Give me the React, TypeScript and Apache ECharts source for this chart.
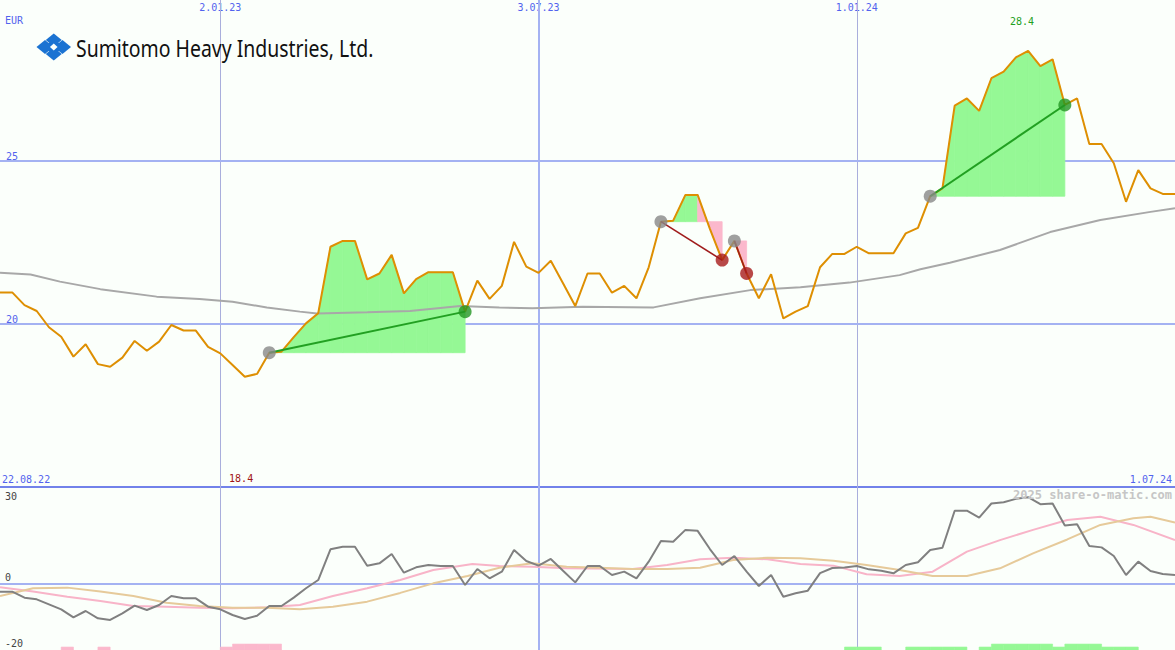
import React, { useEffect, useRef } from "react";
import * as echarts from "echarts";

// ---------- data ----------
const FIRST_WEEK = -1; // week index of first value (x axis: weeks since 29.08.22)
const priceValues = [
  20.97, 20.97, 20.97, 20.58, 20.4, 19.9, 19.61, 19.0, 19.38, 18.77, 18.69, 18.97, 19.48, 19.18, 19.46, 19.97,
  19.8, 19.8, 19.3, 19.1, 18.74, 18.38, 18.47, 19.12, 19.15, 19.6, 20.02, 20.33, 22.37, 22.55, 22.55, 21.37,
  21.55, 22.12, 20.94, 21.38, 21.59, 21.59, 21.59, 20.38, 21.33, 20.77, 21.17, 22.52, 21.76, 21.57, 21.94, 21.25,
  20.55, 21.55, 21.55, 20.96, 21.17, 20.79, 21.74, 23.14, 23.17, 23.96, 23.96, 22.92, 21.96, 22.55, 21.55, 20.79,
  21.53, 20.17, 20.38, 20.55, 21.74, 22.15, 22.15, 22.37, 22.17, 22.17, 22.17, 22.78, 22.95, 23.92, 24.16, 26.7,
  26.92, 26.54, 27.54, 27.74, 28.18, 28.38, 27.91, 28.12, 26.72, 26.92, 25.52, 25.52, 24.93, 23.75, 24.72, 24.16,
  23.99, 23.99,
];
const oscValues = [
  -2.3, -2.33, -2.33, -4.15, -4.65, -6.16, -7.68, -10.1, -8.18, -10.4, -10.9, -8.9, -6.57, -7.88, -6.36, -3.64,
  -4.34, -4.34, -6.87, -7.68, -9.39, -10.6, -9.6, -6.67, -6.67, -4.14, -1.3, 1.21, 10.5, 11.3, 11.3, 5.55,
  6.26, 9.09, 3.43, 5.05, 5.76, 5.45, 5.45, -0.3, 4.55, 1.72, 3.74, 10.3, 6.97, 5.56, 7.58, 4.04,
  0.5, 5.45, 5.45, 2.73, 3.74, 1.72, 6.77, 13.0, 12.8, 16.4, 16.1, 10.6, 5.76, 8.48, 3.74, -0.6,
  2.73, -3.84, -2.83, -2.02, 3.3, 4.85, 5.0, 5.45, 4.44, 4.04, 3.23, 5.76, 6.57, 10.3, 11.0, 22.2,
  22.2, 20.1, 24.4, 24.8, 25.8, 26.3, 24.2, 24.4, 17.7, 18.1, 11.5, 11.1, 8.48, 2.73, 6.77, 3.94,
  3.03, 2.73,
];
const maWeeks = [0, 2.5, 4.9, 8.2, 12.8, 16.3, 19, 21.8, 24.5, 25.9, 30, 33.5, 37.6, 40.8, 43.5, 47.6, 53.4, 57.2, 61.3, 65.4, 69.4, 73.5, 75.2, 77.6, 81.7, 85.8, 89.9, 94, 96];
const maValues = [21.57, 21.52, 21.3, 21.07, 20.84, 20.77, 20.68, 20.51, 20.38, 20.32, 20.36, 20.4, 20.55, 20.51, 20.48, 20.53, 20.51, 20.79, 21.04, 21.13, 21.27, 21.5, 21.68, 21.88, 22.27, 22.82, 23.19, 23.44, 23.55];
const pinkWeeks = [0, 2.7, 5.5, 8.2, 10.9, 13.6, 16.3, 19, 21.8, 24.5, 27.2, 30, 32.7, 35.4, 38.6, 40.8, 43.5, 46.3, 51.7, 54.5, 57.2, 59.9, 62.7, 65.4, 68.1, 70.8, 73.5, 76.2, 79, 81.7, 84.4, 87.2, 89.9, 92.6, 96];
const pinkValues = [-1.0, -2.3, -3.84, -5.15, -6.67, -6.87, -7.18, -7.37, -7.07, -6.36, -3.64, -1.3, 1.21, 4.24, 6.06, 5.45, 5.2, 4.75, 4.55, 5.76, 7.47, 7.98, 7.47, 6.06, 5.56, 2.93, 2.42, 3.74, 9.8, 13.3, 16.4, 19.4, 20.4, 17.9, 13.3];
const tanWeeks = [0, 2.7, 5.5, 8.2, 10.9, 13.6, 16.3, 19, 21.8, 24.5, 27.2, 30, 32.7, 35.4, 38.2, 40.8, 43.5, 46.3, 49, 51.7, 54.5, 57.2, 59.9, 62.7, 65.4, 68.1, 70.8, 73.5, 76.2, 79, 81.7, 84.4, 87.2, 89.9, 92.6, 94, 96];
const tanValues = [-3.64, -1.3, -1.1, -2.3, -3.64, -5.66, -6.67, -7.18, -7.18, -7.68, -6.87, -5.35, -2.7, 0.2, 2.42, 4.95, 6.26, 5.25, 4.95, 4.55, 4.55, 4.95, 7.27, 7.98, 7.78, 7.07, 5.76, 4.24, 2.42, 2.42, 4.75, 9.29, 13.5, 17.9, 19.9, 20.4, 18.6];
const tradeBuyWeeks = [22, 54, 60, 76];
const tradeSellWeeks = [38, 59, 61, 87];
const pinkBarWeeks = [5, 8, 18, 19, 20, 21, 22];
const pinkBarHeights = [0.9, 0.9, 0.9, 1.8, 1.8, 1.8, 1.8];
const greenBarWeeks = [69, 70, 71, 74, 75, 76, 77, 78, 80, 81, 82, 83, 84, 85, 86, 87, 88, 89, 90, 91, 92];
const greenBarHeights = [0.9, 0.9, 0.9, 0.9, 0.9, 0.9, 0.9, 0.9, 0.9, 1.8, 1.8, 1.8, 1.8, 1.8, 0.9, 1.8, 1.8, 1.8, 0.9, 0.9, 0.9];
const dateTickWeeks = [18, 44, 70];
const dateTickLabels = ["2.01.23", "3.07.23", "1.01.24"];
const rangeLabels = ["22.08.22", "1.07.24"];
const priceTickLabels = [20, 25];
const oscTickLabels = [30, 0, -20];
const currency = "EUR";
const companyName = "Sumitomo Heavy Industries, Ltd.";
const watermark = "2025 share-o-matic.com";

// ---------- styles ----------
const BLUE_TEXT = "#5263ee";
const GRID_BLUE = "#a4b2f2";
const VLINE = "#a9aedc";
const SEP = "#7282ea";
const MONO = '"DejaVu Sans Mono", monospace';
const GREEN_FILL = "#95f895";
const PINK_FILL = "#fbb8cc";
const LOGO = "#1b73d2";
const BG = "#fbfffb";

const priceAt = (w: number) => priceValues[w - FIRST_WEEK];

export default function App() {
  const ref = useRef<HTMLDivElement>(null);
  useEffect(() => {
    if (!ref.current) return;
    const chart = echarts.init(ref.current, null, { renderer: "svg" });

    const priceData = priceValues.map((p, k) => [FIRST_WEEK + k, p]);
    const oscData = oscValues.map((v, k) => [FIRST_WEEK + k, v]);
    const maData = maWeeks.map((w, k) => [w, maValues[k]]);
    const pinkData = pinkWeeks.map((w, k) => [w, pinkValues[k]]);
    const tanData = tanWeeks.map((w, k) => [w, tanValues[k]]);

    const segs: number[][] = [];
    const tradeLines: any[] = [];
    const dots: any[] = [];
    tradeBuyWeeks.forEach((b, t) => {
      const s = tradeSellWeeks[t];
      const bp = priceAt(b);
      const sp = priceAt(s);
      for (let j = b; j < s; j++) {
        const p0 = priceAt(j);
        const p1 = priceAt(j + 1);
        segs.push([j, p0, j + 1, p1, bp, p1 >= bp ? 1 : 0]);
      }
      const gain = sp >= bp;
      tradeLines.push({ coords: [[b, bp], [s, sp]], lineStyle: { color: gain ? "#22a022" : "#a01c1c", width: gain ? 2 : 1.6 } });
      dots.push({ value: [b, bp], itemStyle: { color: "#888888" } });
      dots.push({ value: [s, sp], itemStyle: { color: gain ? "#239623" : "#a81c1c" } });
    });

    let maxI = 0, minI = 0;
    priceValues.forEach((p, k) => {
      if (p > priceValues[maxI]) maxI = k;
      if (p < priceValues[minI]) minI = k;
    });
    const maxW = FIRST_WEEK + maxI, minW = FIRST_WEEK + minI;

    const bars: number[][] = [];
    pinkBarWeeks.forEach((w, k) => bars.push([w, pinkBarHeights[k], 0]));
    greenBarWeeks.forEach((w, k) => bars.push([w, greenBarHeights[k], 1]));

    const vlines = (top: boolean) => {
      const d: any[] = dateTickWeeks.map((w, k) => ({
        xAxis: w,
        lineStyle: { color: k === 1 ? GRID_BLUE : VLINE, width: k === 1 ? 2 : 1, type: "solid" },
      }));
      if (top) {
        priceTickLabels.forEach((v) => d.push({ yAxis: v, lineStyle: { color: GRID_BLUE, width: 2, type: "solid" } }));
        d.push({ yAxis: 15, lineStyle: { color: SEP, width: 2, type: "solid" } });
      } else {
        d.push({ yAxis: 0, lineStyle: { color: GRID_BLUE, width: 2, type: "solid" } });
      }
      return d;
    };

    const logoLobe = (cx: number, cy: number, hw: number, hh: number, fill: string) => ({
      type: "polygon",
      shape: { points: [[cx - hw, cy], [cx, cy - hh], [cx + hw, cy], [cx, cy + hh]] },
      style: { fill },
      z: 100,
    });

    const option: any = {
      animation: false,
      backgroundColor: BG,
      grid: [
        { left: 0, right: 0, top: 0, height: 487 },
        { left: 0, right: 0, top: 485, height: 165 },
      ],
      xAxis: [
        {
          type: "value", gridIndex: 0, min: 0, max: 96, position: "top",
          axisLine: { show: false }, axisTick: { show: false }, splitLine: { show: false },
          axisLabel: {
            inside: true, margin: 2, customValues: dateTickWeeks,
            formatter: (v: number) => { const i = dateTickWeeks.indexOf(v); return i >= 0 ? dateTickLabels[i] : ""; },
            color: BLUE_TEXT, fontFamily: MONO, fontSize: 10,
          },
        },
        { type: "value", gridIndex: 1, min: 0, max: 96, show: false },
      ],
      yAxis: [
        {
          type: "value", gridIndex: 0, min: 15, max: 29.94, interval: 5,
          axisLine: { show: false }, axisTick: { show: false }, splitLine: { show: false },
          axisLabel: {
            inside: true, margin: 6, verticalAlign: "bottom", showMinLabel: false, showMaxLabel: false,
            formatter: (v: number) => (priceTickLabels.includes(v) ? String(v) : ""),
            color: BLUE_TEXT, fontFamily: MONO, fontSize: 10,
          },
        },
        {
          type: "value", gridIndex: 1, min: -20, max: 30, interval: 10,
          axisLine: { show: false }, axisTick: { show: false }, splitLine: { show: false },
          axisLabel: {
            inside: true, margin: 5, verticalAlign: "middle",
            formatter: (v: number) => {
              if (!oscTickLabels.includes(v)) return "";
              return v === oscTickLabels[0] ? "{t|" + v + "}" : "{b|" + v + "}";
            },
            color: "#444", fontFamily: MONO, fontSize: 10,
            rich: {
              t: { padding: [22, 0, 0, 0], color: "#444", fontFamily: MONO, fontSize: 10 },
              b: { padding: [0, 0, 14, 0], color: "#444", fontFamily: MONO, fontSize: 10 },
            },
          },
        },
      ],
      series: [
        {
          type: "custom", xAxisIndex: 0, yAxisIndex: 0, z: 2, silent: true, clip: true,
          data: segs,
          renderItem: (params: any, api: any) => {
            const x0 = api.value(0), p0 = api.value(1), x1 = api.value(2), p1 = api.value(3), b = api.value(4), g = api.value(5);
            const col = g ? GREEN_FILL : PINK_FILL;
            return {
              type: "polygon",
              shape: { points: [api.coord([x0, p0]), api.coord([x1, p1]), api.coord([x1, b]), api.coord([x0, b])] },
              style: { fill: col, stroke: col, lineWidth: 0.8 },
            };
          },
        },
        {
          type: "line", xAxisIndex: 0, yAxisIndex: 0, data: maData, z: 3, symbol: "none", silent: true,
          lineStyle: { color: "#a8a8a8", width: 2 },
          markLine: { silent: true, symbol: ["none", "none"], label: { show: false }, z: 1, data: vlines(true) },
        },
        {
          type: "line", xAxisIndex: 0, yAxisIndex: 0, data: priceData, z: 4, symbol: "none", silent: true,
          lineStyle: { color: "#de8f02", width: 2 },
          markPoint: {
            silent: true, symbol: "rect", symbolSize: [1, 1], itemStyle: { color: "rgba(0,0,0,0)" },
            data: [
              { coord: [maxW - 0.5, 29.29], value: priceValues[maxI].toFixed(1), label: { color: "#22a022" } },
              { coord: [minW - 0.3, 15.25], value: priceValues[minI].toFixed(1), label: { color: "#a01414" } },
            ],
            label: { show: true, position: "inside", formatter: "{c}", fontFamily: MONO, fontSize: 10 },
          },
        },
        {
          type: "lines", coordinateSystem: "cartesian2d", xAxisIndex: 0, yAxisIndex: 0, z: 5, silent: true,
          data: tradeLines, lineStyle: { opacity: 1 },
        },
        {
          type: "scatter", xAxisIndex: 0, yAxisIndex: 0, z: 6, silent: true, symbolSize: 13,
          data: dots,
        },
        {
          type: "custom", xAxisIndex: 1, yAxisIndex: 1, z: 2, silent: true, clip: true,
          data: bars,
          renderItem: (params: any, api: any) => {
            const w = api.value(0), h = api.value(1), g = api.value(2);
            const a = api.coord([w, -20]);
            const c = api.coord([w + 1, -20 + h]);
            const col = g ? GREEN_FILL : PINK_FILL;
            return { type: "rect", shape: { x: a[0], y: c[1], width: c[0] - a[0], height: a[1] - c[1] }, style: { fill: col, stroke: col, lineWidth: 0.6 } };
          },
        },
        {
          type: "line", xAxisIndex: 1, yAxisIndex: 1, data: pinkData, z: 3, symbol: "none", silent: true,
          lineStyle: { color: "#f8b4c8", width: 2 },
          markLine: { silent: true, symbol: ["none", "none"], label: { show: false }, z: 1, data: vlines(false) },
        },
        {
          type: "line", xAxisIndex: 1, yAxisIndex: 1, data: tanData, z: 3, symbol: "none", silent: true,
          lineStyle: { color: "#e6ca9a", width: 2 },
        },
        {
          type: "line", xAxisIndex: 1, yAxisIndex: 1, data: oscData, z: 4, symbol: "none", silent: true,
          lineStyle: { color: "#808080", width: 2 },
        },
      ],
      graphic: [
        { type: "text", left: 5, top: 15, style: { text: currency, fill: BLUE_TEXT, font: `10px ${MONO}` }, z: 100 },
        { type: "text", left: 2, top: 474, style: { text: rangeLabels[0], fill: BLUE_TEXT, font: `10px ${MONO}` }, z: 100 },
        { type: "text", right: 3, top: 474, style: { text: rangeLabels[1], fill: BLUE_TEXT, font: `10px ${MONO}` }, z: 100 },
        { type: "text", right: 3, top: 489, style: { text: watermark, fill: "#c6c6c6", font: `bold 12px ${MONO}` }, z: 100 },
        logoLobe(53.75, 47, 10, 8, LOGO),
        logoLobe(45, 47, 8.5, 7, LOGO),
        logoLobe(62.5, 47, 8.5, 7, LOGO),
        logoLobe(53.75, 40, 8, 6.5, LOGO),
        logoLobe(53.75, 54, 8, 6.5, LOGO),
        logoLobe(53.75, 47, 3.8, 3.4, BG),
        {
          type: "text", x: 76, y: 48, scaleX: 0.845, z: 100,
          style: { text: companyName, fill: "#111", font: '23px "Noto Sans"', textVerticalAlign: "middle", verticalAlign: "middle" },
        },
      ],
    };
    chart.setOption(option);
    return () => chart.dispose();
  }, []);
  return <div ref={ref} style={{ position: "fixed", left: 0, top: 0, width: 1175, height: 650 }} />;
}
